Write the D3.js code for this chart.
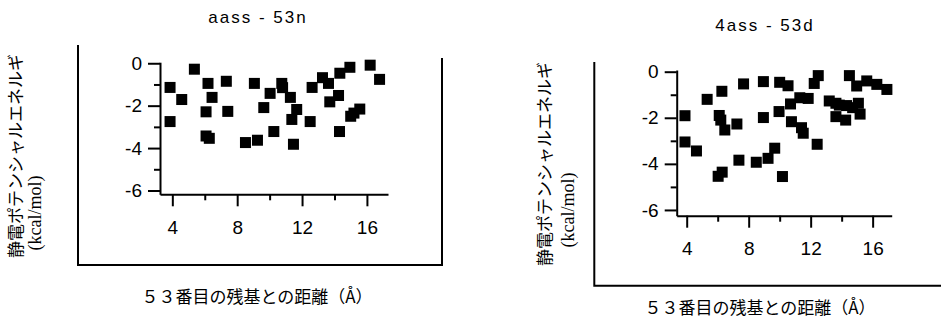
<!DOCTYPE html>
<html><head><meta charset="utf-8">
<script src="https://cdn.jsdelivr.net/npm/d3@7"></script>
<style>body{margin:0;background:#fff}</style>
</head><body><svg id="c" width="941" height="320"></svg>
<script>
// ---- data ----
const titles = ["aass - 53n", "4ass - 53d"];
const xLabel = "５３番目の残基との距離（Å）";
const yLabel1 = "静電ポテンシャルエネルギ";
const yLabel2 = "(kcal/mol)";
const xMajorTicks = [4, 8, 12, 16];
const xMinorTicks = [6, 10, 14];
const yMajorTicks = [0, -2, -4, -6];
const yMinorTicks = [-1, -3, -5];

const leftX = [3.86, 3.86, 4.58, 5.36, 6.2, 6.45, 6.08, 6.08, 6.28, 7.33, 7.42, 8.51, 9.06, 9.25, 9.64, 10.03, 10.26, 10.75, 10.8, 11.28, 11.67, 11.37, 11.47, 12.62, 12.5, 13.26, 13.63, 13.71, 14.25, 14.33, 14.31, 14.95, 15.0, 15.2, 15.56, 16.2, 16.78];
const leftY = [-1.14, -2.75, -1.71, -0.28, -0.95, -1.61, -2.29, -3.43, -3.54, -0.85, -2.27, -3.74, -0.95, -3.63, -2.09, -1.42, -3.22, -0.95, -1.15, -1.61, -2.18, -2.65, -3.82, -1.14, -2.75, -0.68, -0.95, -1.82, -1.52, -0.47, -3.22, -0.19, -2.5, -2.35, -2.16, -0.09, -0.76];

const rightX = [3.89, 3.89, 4.63, 5.32, 6.27, 6.1, 6.2, 6.46, 6.03, 6.29, 7.24, 7.37, 7.67, 8.49, 8.95, 8.95, 9.25, 9.68, 9.96, 10.0, 10.18, 10.54, 10.7, 10.76, 11.3, 11.41, 11.52, 11.84, 12.23, 12.49, 12.42, 13.2, 13.63, 13.63, 13.85, 14.32, 14.26, 14.5, 14.71, 14.97, 15.08, 15.19, 15.62, 16.27, 16.92];
const rightY = [-1.91, -3.05, -3.44, -1.2, -0.85, -1.9, -2.1, -2.53, -4.54, -4.36, -2.27, -3.84, -0.53, -3.93, -0.43, -1.99, -3.76, -3.32, -1.73, -0.46, -4.55, -0.61, -1.4, -2.17, -1.13, -2.43, -2.67, -1.16, -0.51, -0.17, -3.15, -1.27, -1.37, -1.95, -1.45, -1.47, -2.1, -0.17, -1.56, -0.62, -1.37, -1.84, -0.4, -0.55, -0.77];

// ---- layout ----
const panels = [
  { xs: leftX, ys: leftY, title: titles[0],
    xr: [160, 388], xd: [3.24, 17.3], yr: [194.3, 62.2], yd: [-6.18, 0.05],
    frame: "M78,45V265H442V58",
    titlePos: [258, 23], xlabPos: [257, 303],
    yl1: [16, 156], yl2: [35, 213] },
  { xs: rightX, ys: rightY, title: titles[1],
    xr: [676.7, 891.7], xd: [3.355, 17.23], yr: [215.7, 70], yd: [-6.25, 0.074],
    frame: "M594.3,62V285.7H941",
    titlePos: [765, 31], xlabPos: [760, 314],
    yl1: [545, 164], yl2: [568, 210] }
];

const svg = d3.select("#c");
const S = 11;

panels.forEach(p => {
  const g = svg.append("g");
  const x = d3.scaleLinear().domain(p.xd).range(p.xr);
  const y = d3.scaleLinear().domain(p.yd).range(p.yr);
  const x0 = p.xr[0], y0 = p.yr[0];

  g.append("path").attr("d", p.frame).attr("fill", "none")
    .attr("stroke", "#000").attr("stroke-width", 2);

  g.append("g").attr("transform", `translate(0,${y0})`)
    .call(d3.axisBottom(x).tickValues(xMajorTicks).tickSize(12).tickSizeOuter(0).tickPadding(14).tickFormat(d3.format("d")));
  g.append("g").attr("transform", `translate(0,${y0})`)
    .call(d3.axisBottom(x).tickValues(xMinorTicks).tickSize(6).tickSizeOuter(0).tickFormat(""))
    .select(".domain").remove();
  const ya = g.append("g").attr("transform", `translate(${x0},0)`)
    .call(d3.axisLeft(y).tickValues(yMajorTicks).tickSize(12).tickSizeOuter(0).tickPadding(6).tickFormat(d3.format("d")));
  g.append("g").attr("transform", `translate(${x0},0)`)
    .call(d3.axisLeft(y).tickValues(yMinorTicks).tickSize(6).tickSizeOuter(0).tickFormat(""))
    .select(".domain").remove();

  g.selectAll(".domain, .tick line").attr("stroke", "#000").attr("stroke-width", 2);
  g.selectAll(".tick text").attr("font-family", "Liberation Sans, Arial, sans-serif")
    .attr("font-size", 19).attr("fill", "#000");
  ya.selectAll(".tick text").text(d => d === 0 ? "0" : "-" + Math.abs(d));

  g.selectAll("rect.pt").data(p.xs.map((v, i) => [v, p.ys[i]])).enter()
    .append("rect").attr("class", "pt")
    .attr("x", d => x(d[0]) - S / 2).attr("y", d => y(d[1]) - S / 2)
    .attr("width", S).attr("height", S).attr("fill", "#000");

  g.append("text").attr("x", p.titlePos[0]).attr("y", p.titlePos[1])
    .attr("text-anchor", "middle").attr("font-family", "Liberation Sans, sans-serif")
    .attr("font-size", 17).attr("letter-spacing", 2)
    .attr("fill", "#000").text(p.title);

  g.append("text").attr("x", p.xlabPos[0]).attr("y", p.xlabPos[1])
    .attr("text-anchor", "middle").attr("font-family", "Noto Sans CJK JP, sans-serif")
    .attr("font-size", 17).attr("fill", "#000").text(xLabel);

  g.append("text").attr("transform", `translate(${p.yl1[0]},${p.yl1[1]}) rotate(-90)`)
    .attr("text-anchor", "middle").attr("dy", "0.35em")
    .attr("font-family", "Noto Sans CJK JP, sans-serif").attr("font-size", 17)
    .attr("fill", "#000").text(yLabel1);
  g.append("text").attr("transform", `translate(${p.yl2[0]},${p.yl2[1]}) rotate(-90)`)
    .attr("text-anchor", "middle").attr("dy", "0.35em")
    .attr("font-family", "Liberation Serif, serif").attr("font-size", 18)
    .attr("fill", "#000").text(yLabel2);
});
</script></body></html>
